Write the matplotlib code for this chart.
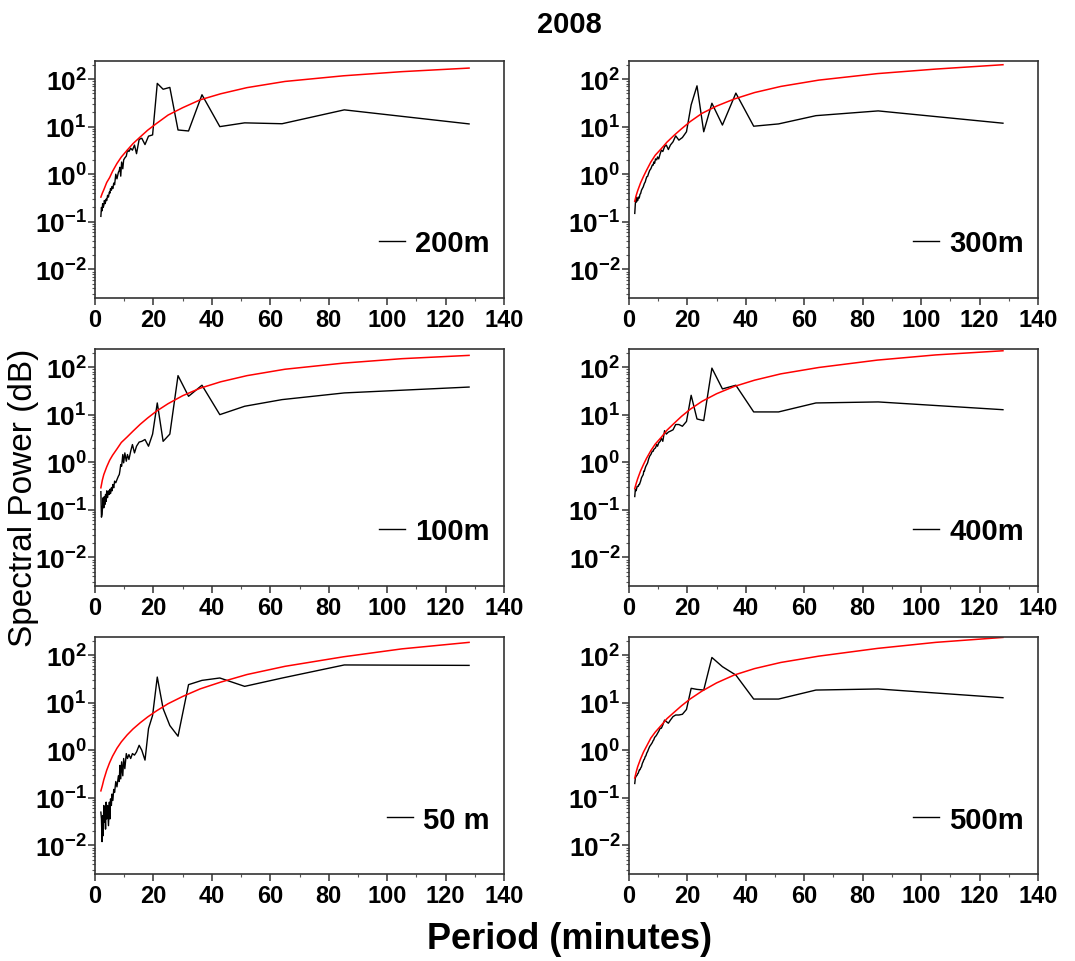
import numpy as np
import matplotlib
matplotlib.use("Agg")
import matplotlib.pyplot as plt
from matplotlib.ticker import LogLocator, FuncFormatter, NullFormatter, MultipleLocator

plt.rcParams["font.family"] = ["Liberation Sans", "DejaVu Sans"]
plt.rcParams["mathtext.fontset"] = "custom"
plt.rcParams["mathtext.bf"] = "Liberation Sans:bold"
plt.rcParams["mathtext.rm"] = "Liberation Sans"

# periods (minutes) of the spectral estimates, shared by every depth
periodo = [128, 85.3, 64, 51.2, 42.7, 36.6, 32, 28.4, 25.6, 23.3, 21.3, 19.7,
           18.3, 17.1, 16, 15.1, 14.2, 13.5, 12.8, 12.2, 11.6, 11.1, 10.7, 10.2,
           9.8, 9.5, 9.1, 8.8, 8.5, 8.3, 8.0, 7.5, 7.1, 6.7, 6.4, 6.1, 5.8, 5.6,
           5.3, 5.1, 4.9, 4.6, 4.3, 4.0, 3.8, 3.6, 3.4, 3.2, 3.0, 2.8, 2.6, 2.4,
           2.2, 2.0]

pot_200 = [11.4, 22.5, 11.5, 12, 10, 46.7, 8.1, 8.5, 66.7, 61, 81, 6.7,
           6.3, 4.2, 5.7, 5.4, 2.7, 4.1, 3.2, 3.5, 3.0, 3.2, 2.4, 2.2,
           2.0, 1.3, 1.8, 0.91, 1.4, 1.2, 1.1, 0.8, 1.0, 0.6, 0.65, 0.5, 0.55, 0.46,
           0.5, 0.4, 0.42, 0.33, 0.36, 0.28, 0.3, 0.26, 0.24, 0.28, 0.22, 0.2, 0.24, 0.17,
           0.2, 0.13]
pot_300 = [11.8, 21.4, 17, 11.4, 10.2, 50.6, 10.8, 31, 7.8, 72, 28.7, 7.8,
           5.9, 5.2, 6.4, 4.8, 4.1, 3.3, 4.1, 3.8, 3.0, 3.2, 2.7, 2.1,
           2.3, 2.0, 2.1, 1.7, 1.8, 1.55, 1.55, 1.3, 1.2, 1.03, 0.9, 0.88, 0.77, 0.69,
           0.64, 0.59, 0.54, 0.5, 0.46, 0.39, 0.38, 0.33, 0.31, 0.33, 0.28, 0.31, 0.26, 0.33,
           0.24, 0.15]
pot_100 = [38, 28.6, 20.7, 15, 10, 41.5, 24.3, 66, 3.9, 2.75, 17.6, 3.9,
           2.17, 3.0, 2.75, 2.65, 2.17, 1.57, 2.35, 1.7, 1.14, 1.45, 1.05, 1.57,
           0.97, 1.45, 0.82, 0.89, 0.65, 0.55, 0.51, 0.43, 0.37, 0.4, 0.29, 0.34, 0.25, 0.29,
           0.22, 0.27, 0.21, 0.25, 0.18, 0.25, 0.15, 0.21, 0.13, 0.19, 0.11, 0.18, 0.12, 0.08,
           0.07, 0.24]
pot_400 = [12.7, 18.5, 17.6, 11.4, 11.4, 41.5, 34.7, 95, 7.5, 8.1, 25.5, 7.2,
           5.7, 6.2, 6.2, 4.8, 4.5, 4.3, 3.9, 4.6, 2.75, 3.2, 2.75, 2.55,
           2.17, 2.35, 2.0, 1.94, 1.85, 1.7, 1.7, 1.45, 1.34, 1.14, 0.97, 0.89, 0.82, 0.76,
           0.65, 0.65, 0.55, 0.51, 0.47, 0.4, 0.37, 0.34, 0.34, 0.31, 0.31, 0.31, 0.27, 0.25,
           0.27, 0.19]
pot_50 = [60.7, 62, 32.9, 22, 33, 29.4, 23.9, 1.97, 3.3, 7.5, 34.5, 5.4,
          2.85, 0.62, 1.0, 1.27, 0.92, 0.79, 0.85, 0.67, 0.81, 0.67, 0.85, 0.41,
          0.67, 0.29, 0.57, 0.25, 0.48, 0.22, 0.29, 0.17, 0.22, 0.13, 0.15, 0.088, 0.12, 0.069,
          0.095, 0.036, 0.081, 0.026, 0.069, 0.036, 0.081, 0.022, 0.059, 0.031, 0.069, 0.016, 0.042, 0.012,
          0.036, 0.05]
pot_500 = [12.7, 19.4, 18.4, 11.9, 11.9, 38, 57, 89, 18.4, 19, 20, 7.2,
           5.7, 5.5, 5.5, 5.1, 4.3, 3.7, 4.0, 4.3, 3.4, 2.9, 2.9, 2.5,
           2.27, 2.1, 1.94, 1.87, 1.65, 1.6, 1.45, 1.3, 1.2, 1.05, 0.94, 0.87, 0.76, 0.74,
           0.65, 0.63, 0.58, 0.53, 0.45, 0.42, 0.39, 0.39, 0.36, 0.33, 0.32, 0.3, 0.29, 0.28,
           0.26, 0.2]

# red-noise reference level
periodo_rojo = [2, 2.5, 3, 4, 5, 6, 7.5, 9, 11, 13, 15.5, 18, 21, 25, 30, 36, 43,
                52, 65, 85, 105, 128]
rojo_200 = [0.33, 0.40, 0.47, 0.67, 0.85, 1.15, 1.68, 2.3, 3.2, 4.4, 6.1, 8.4, 11.6,
            17.5, 25, 36.6, 49, 66, 89, 117, 143, 170]
rojo_300 = [0.27, 0.36, 0.45, 0.66, 0.9, 1.2, 1.8, 2.5, 3.4, 4.7, 6.6, 9.0, 12.8,
            19, 27, 38, 52, 70, 95, 130, 162, 200]
rojo_100 = [0.29, 0.42, 0.55, 0.8, 1.1, 1.4, 1.9, 2.6, 3.4, 4.5, 6.3, 8.5, 11.8,
            17, 25, 36, 49, 66, 90, 121, 150, 176]
rojo_400 = [0.28, 0.36, 0.45, 0.66, 0.9, 1.2, 1.75, 2.4, 3.3, 4.7, 6.6, 9.2, 13,
            19, 27.5, 39, 53, 72, 98, 140, 180, 220]
rojo_50 = [0.14, 0.18, 0.24, 0.38, 0.55, 0.75, 1.1, 1.5, 2.1, 2.8, 3.8, 5.0, 6.7,
           9.5, 13.5, 19.5, 27, 39, 58, 92, 135, 185]
rojo_500 = [0.26, 0.35, 0.45, 0.66, 0.92, 1.2, 1.8, 2.4, 3.3, 4.6, 6.3, 8.6, 12,
            17.5, 26, 38, 52, 70, 95, 138, 185, 235]

paneles = [
    ("200m", pot_200, rojo_200), ("300m", pot_300, rojo_300),
    ("100m", pot_100, rojo_100), ("400m", pot_400, rojo_400),
    ("50 m", pot_50, rojo_50), ("500m", pot_500, rojo_500),
]

fig, axs = plt.subplots(3, 2, figsize=(10.75, 9.62), dpi=100)
fig.subplots_adjust(left=0.0884, right=0.9656, top=0.9356, bottom=0.0904,
                    wspace=0.305, hspace=0.215)

fmt_y = FuncFormatter(lambda v, pos: r"$\mathbf{10^{%d}}$" % round(np.log10(v)))

for ax, (nombre, pot, rojo) in zip(axs.flat, paneles):
    ax.plot(periodo, pot, color="black", lw=1.0, label=nombre)
    ax.plot(periodo_rojo, rojo, color="#ff0000", lw=1.1)
    ax.set_yscale("log")
    ax.set_xlim(0, 140)
    ax.set_ylim(2.5e-3, 2.4e2)
    ax.xaxis.set_major_locator(MultipleLocator(20))
    ax.xaxis.set_minor_locator(MultipleLocator(10))
    ax.yaxis.set_major_locator(LogLocator(base=10, numticks=10))
    ax.yaxis.set_minor_locator(LogLocator(base=10, subs=np.arange(2, 10), numticks=20))
    ax.yaxis.set_major_formatter(fmt_y)
    ax.yaxis.set_minor_formatter(NullFormatter())
    ax.tick_params(which="major", direction="out", length=5, width=1.1,
                   color="#333333", pad=2)
    ax.tick_params(which="minor", direction="out", length=2.5, width=0.8,
                   color="#555555")
    ax.tick_params(axis="x", labelsize=17)
    ax.tick_params(axis="y", labelsize=19, pad=1)
    for lbl in ax.get_xticklabels():
        lbl.set_fontweight("bold")
    for s in ax.spines.values():
        s.set_linewidth(1.2)
        s.set_color("#333333")
    ax.legend(loc="center right", bbox_to_anchor=(0.965, 0.23), frameon=False,
              prop={"weight": "bold", "size": 21}, handlelength=0.9,
              handletextpad=0.35, borderpad=0, borderaxespad=0)

fig.text(0.53, 0.974, "2008", ha="center", va="center", fontsize=21, fontweight="bold")
fig.text(0.022, 0.483, "Spectral Power (dB)", rotation=90, ha="center", va="center",
         fontsize=24)
fig.text(0.53, 0.023, "Period (minutes)", ha="center", va="center", fontsize=26,
         fontweight="bold")

fig.savefig("out.png", dpi=100)
